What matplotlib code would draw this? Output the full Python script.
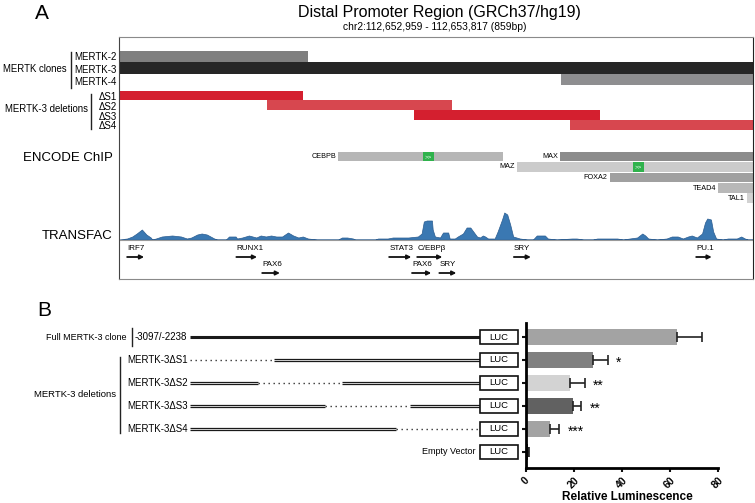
import matplotlib
matplotlib.use("Agg")
import matplotlib.pyplot as plt
from matplotlib.patches import Rectangle
from matplotlib.transforms import blended_transform_factory

plt.rcParams['font.family'] = ['Liberation Sans', 'DejaVu Sans']

W, H = 755, 503

# ---- panel A data (bp offsets from chr2:112,652,959) ----
region_len = 859
clone_names = ['MERTK-2', 'MERTK-3', 'MERTK-4']
clone_start = [0, 0, 599]
clone_end = [256, 859, 859]
clone_colors = ['#7f7f7f', '#262626', '#8e8e90']

del_names = ['ΔS1', 'ΔS2', 'ΔS3', 'ΔS4']
del_start = [0, 200, 400, 611]
del_end = [249, 451, 652, 859]
del_colors = ['#d41f2f', '#d7474f', '#d41f2f', '#d7474f']

chip_names = ['CEBPB', 'MAX', 'MAZ', 'FOXA2', 'TEAD4', 'TAL1']
chip_start = [297, 598, 539, 665, 812, 851]
chip_end = [520, 859, 859, 859, 859, 859]
chip_colors = ['#b6b6b6', '#8c8c8c', '#cbcbcb', '#a0a0a0', '#b8b8b8', '#d2d2d2']
motif_start = [412, 696]
motif_end = [427, 711]

tf_names = ['IRF7', 'RUNX1', 'PAX6', 'STAT3', 'C/EBPβ', 'PAX6', 'SRY', 'SRY', 'PU.1']
tf_start = [11, 159, 194, 366, 404, 397, 434, 535, 782]
tf_end = [34, 187, 218, 396, 438, 423, 457, 558, 803]
tf_row = [0, 0, 1, 0, 0, 1, 1, 0, 0]

cov_x = [0, 11, 18, 24, 31, 37, 43, 45, 50, 58, 72, 84, 92, 98, 106, 112, 119, 129,
         133, 145, 149, 158, 160, 167, 176, 186, 192, 199, 206, 213, 221, 229, 236,
         243, 249, 256, 268, 297, 302, 309, 317, 320, 347, 351, 364, 371, 392, 405,
         410, 413, 417, 424, 425, 428, 435, 439, 446, 448, 455, 459, 466, 471, 476,
         480, 485, 489, 493, 496, 500, 509, 513, 519, 522, 526, 530, 534, 543, 553,
         561, 566, 577, 581, 593, 614, 620, 629, 642, 648, 661, 675, 683, 692, 702,
         709, 713, 717, 729, 742, 749, 757, 764, 771, 776, 783, 790, 794, 797, 802,
         805, 809, 818, 825, 837, 843, 848, 852, 859]
cov_h = [0, 1, 3, 6, 10, 5, 2, 0, 1, 3, 4, 3, 1, 2, 5, 6, 5, 1,
         0, 0, 3, 3, 1, 2, 4, 2, 4, 3, 4, 3, 3, 7, 4,
         2, 3, 1, 0, 0, 2, 2, 1, 0, 0, 1, 1, 2, 2, 3,
         6, 18, 19, 19, 10, 3, 2, 7, 7, 1, 1, 3, 6, 12, 12,
         8, 3, 2, 4, 3, 1, 1, 8, 20, 27, 25, 15, 3, 1, 0,
         0, 4, 4, 1, 0, 1, 1, 0, 0, 1, 1, 1, 0, 1, 2,
         6, 4, 1, 0, 1, 3, 3, 1, 3, 4, 2, 6, 17, 21, 20,
         8, 1, 0, 1, 1, 3, 1, 0, 0]

# ---- panel B data ----
constructs = ['Full MERTK-3 clone', 'MERTK-3ΔS1', 'MERTK-3ΔS2', 'MERTK-3ΔS3',
              'MERTK-3ΔS4', 'Empty Vector']
lum = [63, 28, 18.5, 19.5, 10.2, 0.8]
lum_err = [10.5, 6, 6, 3.5, 3.6, 0.3]
lum_colors = ['#a3a3a3', '#808080', '#d3d3d3', '#616161', '#a3a3a3', '#111111']
sig = ['', '*', '**', '**', '***', '']


def px_axes(x0, y0, x1, y1):
    return fig.add_axes([x0 / W, 1 - y1 / H, (x1 - x0) / W, (y1 - y0) / H])


fig = plt.figure(figsize=(W / 100, H / 100), dpi=100)
fig.patch.set_facecolor('white')

# ================= panel A =================
axA = px_axes(119, 37, 753, 279)
axA.set_xlim(0, region_len)
axA.set_ylim(279, 37)
axA.set_xticks([])
axA.set_yticks([])
for s in ['top', 'bottom']:
    axA.spines[s].set_color('#8a8a8a')
    axA.spines[s].set_linewidth(0.8)
axA.spines['left'].set_color('#444444')
axA.spines['right'].set_color('#222222')

clone_y = [56.5, 68, 79.5]
for i in range(3):
    axA.barh(clone_y[i], clone_end[i] - clone_start[i], left=clone_start[i],
             height=11.5, color=clone_colors[i], lw=0)

del_y = [95.5, 105, 115, 125]
for i in range(4):
    axA.barh(del_y[i], del_end[i] - del_start[i], left=del_start[i],
             height=9.5, color=del_colors[i], lw=0)

chip_y = [156.5, 156.5, 167, 177.5, 188, 198]
for i in range(len(chip_names)):
    axA.barh(chip_y[i], chip_end[i] - chip_start[i], left=chip_start[i],
             height=9.5, color=chip_colors[i], lw=0)
    axA.annotate(chip_names[i], xy=(chip_start[i], chip_y[i]), xytext=(-1.5, 0),
                 textcoords='offset points', ha='right', va='center', fontsize=5.2)
for k, row in enumerate([0, 2]):
    axA.barh(chip_y[row], motif_end[k] - motif_start[k], left=motif_start[k],
             height=9.5, color='#2fb24c', lw=0)
    axA.text((motif_start[k] + motif_end[k]) / 2, chip_y[row], '>>', color='white',
             fontsize=4.5, ha='center', va='center')

base = 239.5
axA.plot([0, region_len], [base, base], color='#9a9a9a', lw=0.8)
axA.fill_between(cov_x, [base - h for h in cov_h], base, color='#3a78b2',
                 edgecolor='#2a5c90', lw=0.5)

arrow_y = [257, 273]
for i in range(len(tf_names)):
    y = arrow_y[tf_row[i]]
    axA.annotate('', xy=(tf_end[i], y), xytext=(tf_start[i], y),
                 arrowprops=dict(arrowstyle='-|>', lw=1.3, color='#111111',
                                 mutation_scale=6, shrinkA=0, shrinkB=0))
    axA.text(tf_start[i], y - 9, tf_names[i], fontsize=5.8, ha='left', va='center')

# ================= panel B bars =================
axB = px_axes(526, 323, 718, 468)
rows = list(range(len(constructs)))
axB.barh(rows, lum, height=0.72, color=lum_colors, lw=0)
axB.errorbar(lum, rows, xerr=[[0] * len(lum), lum_err], fmt='none', ecolor='#222222',
             elinewidth=1.2, capsize=3.5, capthick=1.2)
for i in range(len(rows)):
    if sig[i]:
        axB.annotate(sig[i], xy=(lum[i] + lum_err[i], rows[i]), xytext=(6, -2),
                     textcoords='offset points', ha='left', va='center', fontsize=10)
axB.set_xlim(0, 80)
axB.set_ylim(5.7, -0.61)
axB.set_xticks([0, 20, 40, 60, 80])
axB.set_xticklabels(['0', '20', '40', '60', '80'], rotation=45, fontweight='bold',
                    fontsize=7.5, ha='center', va='top')
axB.set_yticks(rows)
axB.set_yticklabels([''] * len(rows))
axB.tick_params(axis='both', width=1.5, length=3, color='#111111')
axB.tick_params(axis='x', pad=2)
for s in ['top', 'right']:
    axB.spines[s].set_visible(False)
for s in ['left', 'bottom']:
    axB.spines[s].set_linewidth(2)
axB.set_xlabel('Relative Luminescence', fontweight='bold', fontsize=8.5,
               va='center')
axB.xaxis.set_label_coords(0.53, -0.2)
axB.set_facecolor('none')

# ================= panel B constructs =================
axC = px_axes(190, 323, 480, 468)
axC.set_xlim(0, region_len)
axC.set_ylim(5.7, -0.61)
axC.axis('off')
axC.plot([0, region_len], [0, 0], color='#1a1a1a', lw=2.2, solid_capstyle='butt')
for i in range(4):
    y = i + 1
    segs = [(0, del_start[i]), (del_end[i], region_len)]
    for a, b in segs:
        if b - a > 0:
            for dy in (-0.05, 0.05):
                axC.plot([a, b], [y + dy, y + dy], color='#1a1a1a', lw=0.9,
                         solid_capstyle='butt')
    axC.plot([del_start[i], del_end[i]], [y, y], color='#333333', lw=1,
             linestyle=(0, (1, 2.6)))

# ================= overlay text =================
ov = fig.add_axes([0, 0, 1, 1])
ov.set_xlim(0, W)
ov.set_ylim(H, 0)
ov.axis('off')

ov.text(42, 13, 'A', fontsize=15, ha='center', va='center')
ov.text(44, 311, 'B', fontsize=15, ha='center', va='center')
ov.text(439, 12, 'Distal Promoter Region (GRCh37/hg19)', fontsize=11.5,
        ha='center', va='center')
ov.text(435, 27, 'chr2:112,652,959 - 112,653,817 (859bp)', fontsize=7.4,
        ha='center', va='center')

for name, y in zip(clone_names, [57, 69.5, 82]):
    ov.text(117, y, name, fontsize=7, ha='right', va='center')
ov.plot([71, 71], [52, 88], color='#222222', lw=1)
ov.text(67, 69, 'MERTK clones', fontsize=6.9, ha='right', va='center')
for name, y in zip(del_names, [96.5, 106.5, 116.5, 126]):
    ov.text(117, y, name, fontsize=7, ha='right', va='center')
ov.plot([91, 91], [94, 129], color='#222222', lw=1)
ov.text(88, 109, 'MERTK-3 deletions', fontsize=6.9, ha='right', va='center')
ov.text(113, 158, 'ENCODE ChIP', fontsize=9.5, ha='right', va='center')
ov.text(113, 236, 'TRANSFAC', fontsize=9.5, ha='right', va='center')

# panel B labels, x in pixels, y on the bar rows
bt = blended_transform_factory(ov.transData, axB.transData)
ov.text(127, 0, constructs[0], fontsize=6.5, ha='right', va='center', transform=bt)
ov.plot([132, 132], [-0.38, 0.38], color='#222222', lw=1, transform=bt)
ov.text(135, 0, '-3097/-2238', fontsize=7, ha='left', va='center', transform=bt)
for i in range(1, 5):
    ov.text(127, i, constructs[i], fontsize=7, ha='left', va='center', transform=bt)
ov.plot([120, 120], [0.87, 4.17], color='#222222', lw=1, transform=bt)
ov.text(116, 2.48, 'MERTK-3 deletions', fontsize=6.8, ha='right', va='center',
        transform=bt)
ov.text(475, 5, constructs[5], fontsize=6.5, ha='right', va='center', transform=bt)
for i in rows:
    ov.add_patch(Rectangle((480, i - 0.31), 38, 0.62, facecolor='white',
                           edgecolor='#111111', lw=1.2, transform=bt))
    ov.text(499, i, 'LUC', fontsize=6.8, ha='center', va='center', transform=bt)

fig.savefig('out.png', dpi=100, facecolor='white')
